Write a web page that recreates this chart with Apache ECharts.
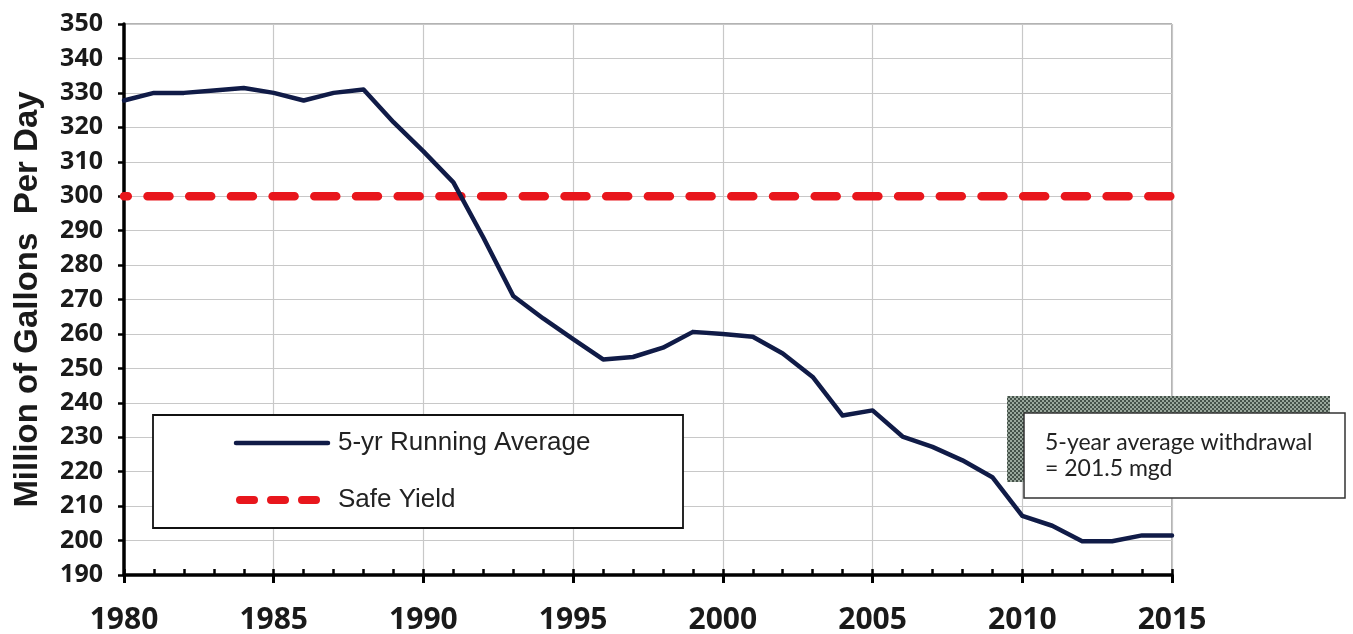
<!DOCTYPE html>
<html><head><meta charset="utf-8">
<script src="https://cdn.jsdelivr.net/npm/echarts@6/dist/echarts.min.js"></script>
<style>html,body{margin:0;padding:0;background:#fff}#c{width:1353px;height:634px}</style>
</head><body><div id="c"></div>
<script>
const years = [1980,1981,1982,1983,1984,1985,1986,1987,1988,1989,1990,1991,1992,1993,1994,1995,1996,1997,1998,1999,2000,2001,2002,2003,2004,2005,2006,2007,2008,2009,2010,2011,2012,2013,2014,2015];
const runningAverage = [327.8,330,330,330.7,331.4,330,327.8,330,331,321.5,313,304,288,271,264.5,258.5,252.6,253.3,256,260.6,260,259.2,254.3,247.5,236.3,237.8,230.2,227.2,223.3,218.4,207.2,204.3,199.8,199.8,201.5,201.5];
const safeYieldYears = [1980, 2015];
const safeYieldValues = [300, 300];
const seriesNames = ['5-yr Running Average', 'Safe Yield'];
const yAxisTitle = 'Million of Gallons  Per Day';
const annotationLines = ['5-year average withdrawal', '= 201.5 mgd'];
const xMin = 1980, xMax = 2015, xStep = 5;
const yMin = 190, yMax = 350, yStep = 10;

const NAVY = '#101b47', RED = '#e8161c';

// hatched shadow texture for the annotation box
const pat = document.createElement('canvas');
pat.width = 4; pat.height = 4;
const pctx = pat.getContext('2d');
pctx.fillStyle = '#9aa89d'; pctx.fillRect(0, 0, 4, 4);
pctx.fillStyle = '#45524a'; pctx.fillRect(0, 0, 2, 2); pctx.fillRect(2, 2, 2, 2);

const chart = echarts.init(document.getElementById('c'), null, {renderer: 'canvas'});
const avgData = years.map((y, i) => [y, runningAverage[i]]);
const safeData = safeYieldYears.map((y, i) => [y, safeYieldValues[i]]);

chart.setOption({
  animation: false,
  backgroundColor: '#fff',
  grid: {left: 124, right: 181, top: 24, bottom: 59, show: true, borderColor: '#666', borderWidth: 1, backgroundColor: 'transparent', containLabel: false, outerBoundsMode: 'none'},
  xAxis: [{
    type: 'value', min: xMin, max: xMax, interval: xStep, position: 'bottom',
    axisLine: {show: true, lineStyle: {color: '#000', width: 3.5}},
    axisTick: {show: true, inside: false, length: 8, lineStyle: {color: '#000', width: 3}},
    axisLabel: {show: true, margin: 30, color: '#1a1a1a', fontFamily: 'Open Sans', fontWeight: 'bold', fontSize: 30, formatter: v => String(v)},
    splitLine: {show: true, lineStyle: {color: '#c8c8c8', width: 1.2}}
  }, {
    type: 'value', min: xMin, max: xMax, interval: 1, position: 'bottom', offset: 0,
    axisLine: {show: false},
    axisTick: {show: true, inside: true, length: 6, lineStyle: {color: '#000', width: 2.5}},
    axisLabel: {show: false},
    splitLine: {show: false}
  }],
  yAxis: {
    type: 'value', min: yMin, max: yMax, interval: yStep,
    name: yAxisTitle, nameLocation: 'middle', nameRotate: 90, nameGap: 80,
    nameTextStyle: {fontFamily: 'Liberation Sans', fontWeight: 'bold', fontSize: 33, color: '#1a1a1a'},
    axisLine: {show: true, lineStyle: {color: '#000', width: 3.5}},
    axisTick: {show: true, inside: false, length: 6, lineStyle: {color: '#000', width: 2.5}},
    axisLabel: {margin: 21, color: '#1a1a1a', fontFamily: 'Open Sans', fontWeight: 'bold', fontSize: 25},
    splitLine: {show: true, lineStyle: {color: '#c8c8c8', width: 1.2}}
  },
  series: [{
    name: seriesNames[1], type: 'line', data: safeData, symbol: 'none', z: 3,
    lineStyle: {color: RED, width: 8.5, type: [22, 19.7], dashOffset: 18.2, cap: 'round'}
  }, {
    name: seriesNames[0], type: 'line', data: avgData, symbol: 'none', z: 4,
    lineStyle: {color: NAVY, width: 4.5, join: 'round', cap: 'round'}
  }],
  graphic: [
    {type: 'rect', z: 20, shape: {x: 153, y: 415, width: 530, height: 113}, style: {fill: '#fff', stroke: '#111', lineWidth: 1.8}},
    {type: 'line', z: 21, shape: {x1: 236, y1: 443, x2: 328, y2: 443}, style: {stroke: NAVY, lineWidth: 4.5, lineCap: 'round'}},
    {type: 'text', z: 21, x: 338, y: 443, style: {text: seriesNames[0], font: '26px "Liberation Sans"', fill: '#222', verticalAlign: 'middle', align: 'left'}},
    {type: 'line', z: 21, shape: {x1: 240, y1: 500, x2: 318, y2: 500}, style: {stroke: RED, lineWidth: 8, lineCap: 'round', lineDash: [14, 17]}},
    {type: 'text', z: 21, x: 338, y: 500, style: {text: seriesNames[1], font: '26px "Liberation Sans"', fill: '#222', verticalAlign: 'middle', align: 'left'}},
    {type: 'rect', z: 20, shape: {x: 1007, y: 396, width: 323, height: 86}, style: {fill: {image: pat, repeat: 'repeat'}}},
    {type: 'rect', z: 21, shape: {x: 1024, y: 413, width: 321, height: 85}, style: {fill: '#fff', stroke: '#333', lineWidth: 1.5}},
    {type: 'text', z: 22, x: 1045, y: 443, style: {text: annotationLines[0], font: '23px Lato', fill: '#222', verticalAlign: 'middle', align: 'left'}},
    {type: 'text', z: 22, x: 1045, y: 469, style: {text: annotationLines[1], font: '23px Lato', fill: '#222', verticalAlign: 'middle', align: 'left'}}
  ]
});
</script>
</body></html>
